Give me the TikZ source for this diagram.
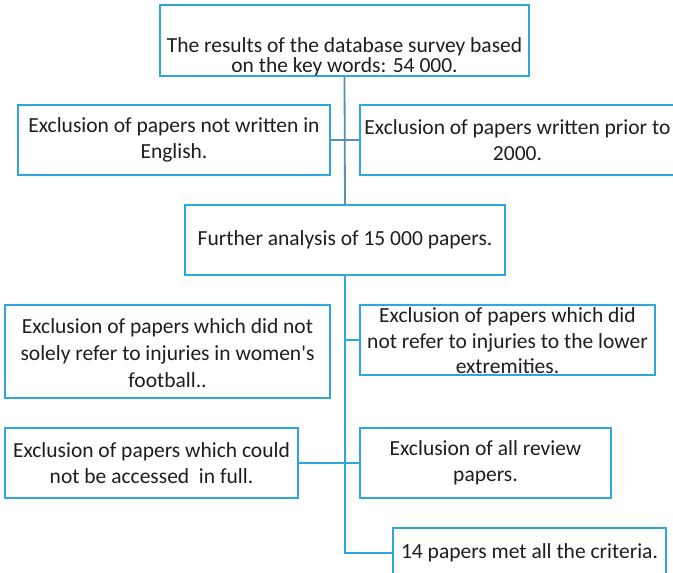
\documentclass[tikz,border=0pt]{standalone}
\usepackage{fontspec}
\setmainfont{Carlito}
\definecolor{boxblue}{HTML}{2EA8DC}
\definecolor{spineblue}{HTML}{5A8FB5}
\definecolor{inkgray}{HTML}{1E1E1E}
\begin{document}
\begin{tikzpicture}[x=1pt,y=-1pt,
	box/.style={rectangle,draw=boxblue,line width=1.6pt,inner sep=0pt},
	txt/.style={align=center,text=inkgray,inner sep=0pt,font=\fontsize{21.5}{25.5}\selectfont},
	upper/.style={draw=spineblue,line width=1.8pt},
	lower/.style={draw=boxblue,line width=1.6pt}]
	\fill[white] (0,0) rectangle (673,573);
	\useasboundingbox (0,0) rectangle (673,573);
	% first search
	\node[box,minimum width=369pt,minimum height=71pt] (survey) at (344.5,40.5) {};
	\node[txt,font=\fontsize{21.5}{20.5}\selectfont] (surveytxt) at (344.5,57)
		{The results of the database survey based\\on the key words: 54 000.};
	\node[box,txt,minimum width=312pt,minimum height=70pt] (english) at (174,140)
		{Exclusion of papers not written in\\English.};
	\node[box,txt,minimum width=315pt,minimum height=70pt] (prior) at (517.5,140)
		{Exclusion of papers written prior to\\2000.};
	\node[box,txt,minimum width=320pt,minimum height=70pt] (analysis) at (345,240)
		{Further analysis of 15 000 papers.};
	% second round
	\node[box,minimum width=325pt,minimum height=93pt] (women) at (167.5,351.5) {};
	\node[txt,font=\fontsize{21.5}{27}\selectfont] (womentxt) at (167.5,353)
		{Exclusion of papers which did not\\solely refer to injuries in women\textquotesingle s\\football..};
	\node[box,minimum width=295pt,minimum height=70pt] (limbs) at (507.5,340) {};
	\node[txt] (limbstxt) at (507.5,341)
		{Exclusion of papers which did\\not refer to injuries to the lower\\extremities.};
	\node[box,txt,minimum width=293pt,minimum height=70pt] (access) at (151.5,463)
		{Exclusion of papers which could\\not be accessed\ \ in full.};
	\node[box,txt,minimum width=251pt,minimum height=70pt] (review) at (485.5,463)
		{Exclusion of all review\\papers.};
	\node[box,txt,minimum width=273pt,minimum height=50pt] (criteria) at (529.5,553)
		{14 papers met all the criteria.};
	% links
	\draw[upper] (survey.south) -- (analysis.north);
	\draw[upper] (english.east) -- (prior.west);
	\draw[lower] (analysis.south) |- (criteria.west);
	\draw[lower] (analysis.south |- limbs.west) -- (limbs.west);
	\draw[lower] (access.east) -- (review.west);
\end{tikzpicture}
\end{document}
